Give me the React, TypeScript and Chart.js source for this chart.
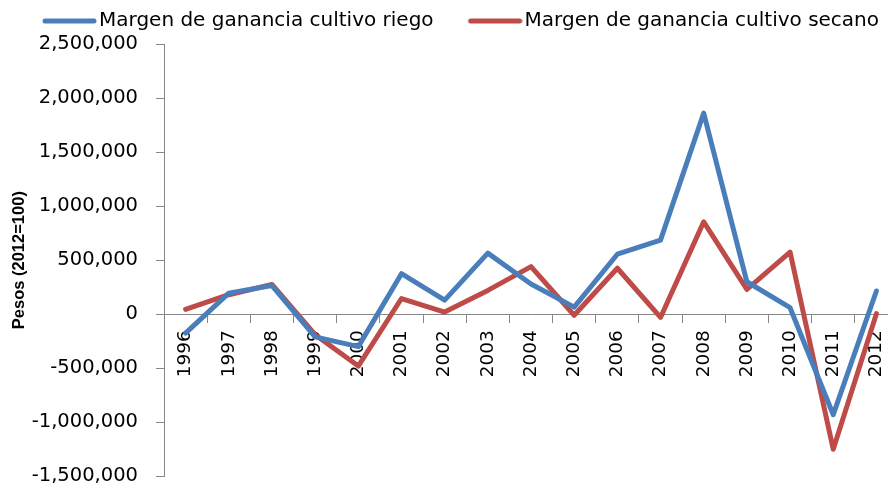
import { useEffect, useRef } from 'react';
import { Chart, registerables } from 'chart.js';

Chart.register(...registerables);

const years = ['1996', '1997', '1998', '1999', '2000', '2001', '2002', '2003', '2004', '2005', '2006', '2007', '2008', '2009', '2010', '2011', '2012'];
const riego = [-175000, 195000, 265000, -210000, -300000, 375000, 130000, 565000, 280000, 65000, 555000, 685000, 1860000, 300000, 60000, -930000, 215000];
const secano = [45000, 180000, 275000, -190000, -480000, 145000, 20000, 220000, 440000, -10000, 425000, -30000, 855000, 230000, 575000, -1250000, 5000];
const seriesNames = ['Margen de ganancia cultivo riego', 'Margen de ganancia cultivo secano'];
const seriesColors = ['#4A7EBB', '#BE4B48'];
const yMin = -1500000;
const yMax = 2500000;
const yStep = 500000;
const yTitle = 'Pesos (2012=100)';

const AXIS_GRAY = '#878787';
const FONT = 'DejaVu Sans';
const LINE_W = 5;

function legendLine(color: string): HTMLCanvasElement {
  const c = document.createElement('canvas');
  c.width = 88;
  c.height = 10;
  const g = c.getContext('2d')!;
  g.strokeStyle = color;
  g.lineWidth = LINE_W;
  g.lineCap = 'round';
  g.beginPath();
  g.moveTo(36, 5);
  g.lineTo(85, 5);
  g.stroke();
  return c;
}

export default function App() {
  const ref = useRef<HTMLCanvasElement>(null);

  useEffect(() => {
    const icons = seriesColors.map(legendLine);
    const chart = new Chart(ref.current!, {
      type: 'line',
      data: {
        labels: years,
        datasets: [
          {
            label: seriesNames[0],
            data: riego,
            borderColor: seriesColors[0],
            backgroundColor: seriesColors[0],
            borderWidth: LINE_W,
            pointRadius: 0,
            tension: 0,
            borderJoinStyle: 'round',
            borderCapStyle: 'round',
          },
          {
            label: seriesNames[1],
            data: secano,
            borderColor: seriesColors[1],
            backgroundColor: seriesColors[1],
            borderWidth: LINE_W,
            pointRadius: 0,
            tension: 0,
            borderJoinStyle: 'round',
            borderCapStyle: 'round',
          },
        ],
      },
      options: {
        responsive: true,
        maintainAspectRatio: false,
        animation: false,
        events: [],
        layout: { padding: { left: 8, right: 12, top: 2, bottom: 0 } },
        plugins: {
          legend: {
            position: 'top',
            align: 'start',
            labels: {
              usePointStyle: true,
              pointStyleWidth: 72,
              boxHeight: 20,
              padding: 9,
              color: '#000',
              font: { family: FONT, size: 20 },
              generateLabels: (ch: any) => {
                const items = (Chart.defaults.plugins.legend.labels as any).generateLabels(ch);
                return items.map((it: any, i: number) => ({ ...it, pointStyle: icons[i] }));
              },
            },
          },
          title: {
            display: true,
            text: '',
            weight: 500,
            padding: 0,
            color: 'rgba(0,0,0,0)',
            font: { size: 3, lineHeight: 1 },
          } as any,
          tooltip: { enabled: false },
        },
        scales: {
          x: {
            type: 'category',
            position: { y: 0 } as any,
            offset: true,
            grid: {
              display: true,
              drawOnChartArea: false,
              drawTicks: true,
              offset: true,
              tickLength: 8,
              color: AXIS_GRAY,
              lineWidth: 1,
            },
            border: { display: true, color: AXIS_GRAY, width: 1 },
            ticks: {
              autoSkip: false,
              minRotation: 90,
              maxRotation: 90,
              padding: 8,
              color: '#000',
              font: { family: FONT, size: 18.5 },
            },
            afterFit: (s: any) => {
              s.height = 0;
            },
          },
          y: {
            type: 'linear',
            position: 'left',
            min: yMin,
            max: yMax,
            ticks: {
              stepSize: yStep,
              padding: 18,
              color: '#000',
              font: { family: FONT, size: 19.5 },
              callback: (v: any) => Number(v).toLocaleString('en-US'),
            },
            grid: {
              display: true,
              drawOnChartArea: false,
              drawTicks: true,
              tickLength: 8,
              color: AXIS_GRAY,
              lineWidth: 1,
            },
            border: { display: true, color: AXIS_GRAY, width: 1 },
            title: {
              display: true,
              text: yTitle,
              color: '#000',
              font: { family: 'Liberation Sans', size: 16.5, weight: 'bold' },
              padding: { top: 2, bottom: 0 },
            },
            afterFit: (s: any) => {
              s.width = 156;
            },
          },
        },
      },
    });
    return () => chart.destroy();
  }, []);

  return (
    <div style={{ position: 'fixed', left: 0, top: 0, width: 888, height: 488, overflow: 'hidden', background: '#fff' }}>
      <div style={{ position: 'relative', width: 910, height: 506 }}>
        <canvas ref={ref} />
      </div>
    </div>
  );
}
